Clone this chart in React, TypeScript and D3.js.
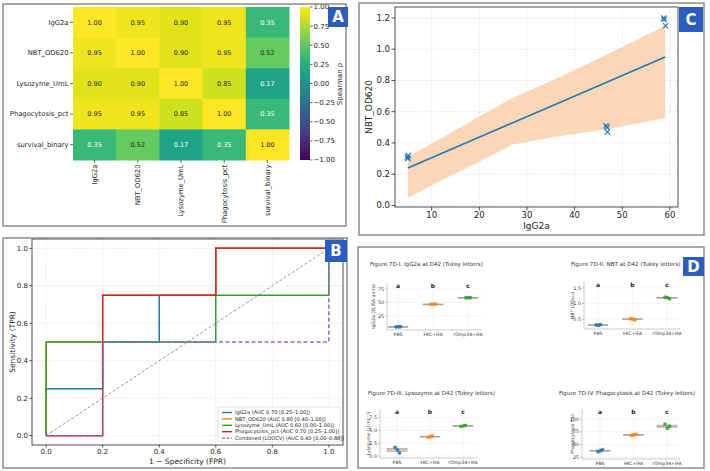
import React from 'react';
import * as d3 from 'd3';

const FONT = "'DejaVu Sans', sans-serif";

// ---- A: Spearman correlation heatmap ----
const markers = ['IgG2a', 'NBT_OD620', 'Lysozyme_UmL', 'Phagocytosis_pct', 'survival_binary'];
const rho = [
  [1.0, 0.95, 0.9, 0.95, 0.35],
  [0.95, 1.0, 0.9, 0.95, 0.52],
  [0.9, 0.9, 1.0, 0.85, 0.17],
  [0.95, 0.95, 0.85, 1.0, 0.35],
  [0.35, 0.52, 0.17, 0.35, 1.0],
];
const cbTicks = [1, 0.75, 0.5, 0.25, 0, -0.25, -0.5, -0.75, -1];

// ---- C: IgG2a vs NBT with regression fit ----
const iggObs = [4.9, 5.0, 5.1, 46.6, 46.8, 46.9, 58.7, 58.8, 59.1];
const nbtObs = [0.31, 0.3, 0.32, 0.51, 0.5, 0.47, 1.2, 1.19, 1.15];
const fitX = [5, 59];
const fitY = [0.24, 0.95];
const bandX = [5, 12, 20, 27, 36, 47, 59];
const bandLo = [0.05, 0.16, 0.28, 0.39, 0.44, 0.49, 0.56];
const bandHi = [0.31, 0.43, 0.57, 0.69, 0.81, 0.97, 1.15];
const cXTicks = [10, 20, 30, 40, 50, 60];
const cYTicks = [0, 0.2, 0.4, 0.6, 0.8, 1.0, 1.2];

// ---- B: ROC curves ----
const rocNames = [
  'IgG2a (AUC 0.70 [0.25–1.00])',
  'NBT_OD620 (AUC 0.80 [0.40–1.00])',
  'Lysozyme_UmL (AUC 0.60 [0.00–1.00])',
  'Phagocytosis_pct (AUC 0.70 [0.25–1.00])',
  'Combined (LOOCV) (AUC 0.40 [0.00–0.88])',
];
const rocColors = ['#1f77b4', '#ff7f0e', '#2ca02c', '#d62728', '#9467bd'];
const fprIgG = [0, 0, 0.2, 0.2, 0.4, 0.4, 0.6, 0.6, 1];
const tprIgG = [0, 0.25, 0.25, 0.5, 0.5, 0.75, 0.75, 1, 1];
const fprNbt = [0, 0, 0.2, 0.2, 0.6, 0.6, 1];
const tprNbt = [0, 0.5, 0.5, 0.75, 0.75, 1, 1];
const fprLys = [0, 0, 0.6, 0.6, 1, 1];
const tprLys = [0, 0.5, 0.5, 0.75, 0.75, 1];
const fprPhag = [0, 0.2, 0.2, 0.6, 0.6, 1];
const tprPhag = [0, 0, 0.75, 0.75, 1, 1];
const fprComb = [0, 0.2, 0.2, 1, 1];
const tprComb = [0, 0, 0.5, 0.5, 1];
const rocTicks = [0, 0.2, 0.4, 0.6, 0.8, 1.0];

// ---- D: group comparisons at D42 ----
const groups = ['PBS', 'FKC+IFA', 'rOmp34+IFA'];
const letters = ['a', 'b', 'c'];
const groupColors = ['#1f77b4', '#ff7f0e', '#2ca02c'];
const iggByGroup = [[4.9, 5.0, 5.1], [46.6, 46.8, 46.9], [58.7, 58.8, 59.1]];
const nbtByGroup = [[0.31, 0.3, 0.32], [0.51, 0.5, 0.47], [1.2, 1.19, 1.15]];
const lysByGroup = [[1.7, 1.2, 0.6], [3.7, 3.8, 3.9], [5.8, 5.9, 6.0]];
const phagByGroup = [[36, 38, 40], [68, 69, 70], [90, 82, 86]];

const textOn = (c: string) => {
  const { r, g, b } = d3.rgb(c);
  const lin = (v: number) => {
    const s = v / 255;
    return s <= 0.03928 ? s / 12.92 : Math.pow((s + 0.055) / 1.055, 2.4);
  };
  const lum = 0.2126 * lin(r) + 0.7152 * lin(g) + 0.0722 * lin(b);
  return lum > 0.408 ? '#262626' : '#ffffff';
};

const Frame = ({ x, y, w, h }: any) => (
  <rect x={x} y={y} width={w} height={h} fill="none" stroke="#8c8c8c" strokeWidth={1.5} />
);

const Tag = ({ x, y, w, h, label }: any) => (
  <g>
    <rect x={x} y={y} width={w} height={h} fill="#2b5cc0" />
    <text x={x + w / 2} y={y + h / 2} dy="0.36em" textAnchor="middle" fill="#fff" fontSize={15} fontWeight="bold">
      {label}
    </text>
  </g>
);

const Heatmap = () => {
  const x = d3.scaleBand<string>().domain(markers).range([73, 289]);
  const y = d3.scaleBand<string>().domain(markers).range([7, 160]);
  const color = d3.scaleSequential(d3.interpolateViridis).domain([-1, 1]);
  const cb = d3.scaleLinear().domain([-1, 1]).range([160, 7]);
  const fmt = d3.format('.2f');
  return (
    <g>
      <defs>
        <linearGradient id="viridisBar" x1="0" y1="1" x2="0" y2="0">
          {d3.range(0, 1.0001, 0.05).map((t) => (
            <stop key={t} offset={t} stopColor={d3.interpolateViridis(t)} />
          ))}
        </linearGradient>
      </defs>
      {rho.map((row, i) =>
        row.map((v, j) => {
          const fill = color(v);
          return (
            <g key={`${i}-${j}`}>
              <rect x={x(markers[j])} y={y(markers[i])} width={x.bandwidth() + 0.5} height={y.bandwidth() + 0.5} fill={fill} />
              <text
                x={(x(markers[j]) as number) + x.bandwidth() / 2}
                y={(y(markers[i]) as number) + y.bandwidth() / 2}
                dy="0.35em"
                textAnchor="middle"
                fontSize={6.5}
                fill={textOn(fill)}
              >
                {fmt(v)}
              </text>
            </g>
          );
        })
      )}
      {markers.map((m) => {
        const cy = (y(m) as number) + y.bandwidth() / 2;
        const cx = (x(m) as number) + x.bandwidth() / 2;
        return (
          <g key={m}>
            <line x1={70} x2={73} y1={cy} y2={cy} stroke="#222" strokeWidth={0.7} />
            <text x={68.5} y={cy} dy="0.35em" textAnchor="end" fontSize={6.8} fill="#222">{m}</text>
            <line x1={cx} x2={cx} y1={160} y2={163} stroke="#222" strokeWidth={0.7} />
            <text transform={`translate(${cx},164.5) rotate(-90)`} dy="0.35em" textAnchor="end" fontSize={6.8} fill="#222">{m}</text>
          </g>
        );
      })}
      <rect x={300} y={7} width={10} height={153} fill="url(#viridisBar)" />
      {cbTicks.map((t) => (
        <g key={t}>
          <line x1={310} x2={312.5} y1={cb(t)} y2={cb(t)} stroke="#222" strokeWidth={0.7} />
          <text x={313.5} y={cb(t)} dy="0.35em" fontSize={7} fill="#222">{fmt(t)}</text>
        </g>
      ))}
      <text transform="translate(340,84) rotate(-90)" textAnchor="middle" dy="0.35em" fontSize={7} fill="#222">
        Spearman ρ
      </text>
    </g>
  );
};

const Scatter = () => {
  const left = 395, right = 678, top = 7, bottom = 207;
  const x = d3.scaleLinear().domain([2.3, 61.7]).range([left, right]);
  const y = d3.scaleLinear().domain([-0.01, 1.27]).range([bottom, top]);
  const band = d3
    .area<number>()
    .x((_, i) => x(bandX[i]))
    .y0((_, i) => y(bandLo[i]))
    .y1((_, i) => y(bandHi[i]));
  const fit = d3.line<number>().x((_, i) => x(fitX[i])).y((_, i) => y(fitY[i]));
  return (
    <g>
      {cXTicks.map((t) => (
        <line key={t} x1={x(t)} x2={x(t)} y1={top} y2={bottom} stroke="#c8c8c8" strokeWidth={0.6} strokeDasharray="1,1.5" />
      ))}
      {cYTicks.map((t) => (
        <line key={t} x1={left} x2={right} y1={y(t)} y2={y(t)} stroke="#c8c8c8" strokeWidth={0.6} strokeDasharray="1,1.5" />
      ))}
      <path d={band(bandX) as string} fill="#fbd3b0" fillOpacity={0.9} />
      <path d={fit(fitX) as string} fill="none" stroke="#1f77b4" strokeWidth={1.6} />
      {iggObs.map((v, i) => {
        const px = x(v), py = y(nbtObs[i]);
        return (
          <path key={i} d={`M${px - 2.6},${py - 2.6}L${px + 2.6},${py + 2.6}M${px - 2.6},${py + 2.6}L${px + 2.6},${py - 2.6}`} stroke="#1f77b4" strokeWidth={1.2} />
        );
      })}
      <rect x={left} y={top} width={right - left} height={bottom - top} fill="none" stroke="#222" strokeWidth={0.8} />
      {cXTicks.map((t) => (
        <g key={t}>
          <line x1={x(t)} x2={x(t)} y1={bottom} y2={bottom + 3.5} stroke="#222" strokeWidth={0.8} />
          <text x={x(t)} y={bottom + 11} textAnchor="middle" fontSize={8.5} fill="#222">{t}</text>
        </g>
      ))}
      {cYTicks.map((t) => (
        <g key={t}>
          <line x1={left - 3.5} x2={left} y1={y(t)} y2={y(t)} stroke="#222" strokeWidth={0.8} />
          <text x={left - 5} y={y(t)} dy="0.35em" textAnchor="end" fontSize={8.5} fill="#222">{t.toFixed(1)}</text>
        </g>
      ))}
      <text x={(left + right) / 2} y={229} textAnchor="middle" fontSize={9} fill="#222">IgG2a</text>
      <text transform={`translate(369,${(top + bottom) / 2}) rotate(-90)`} textAnchor="middle" dy="0.35em" fontSize={9} fill="#222">
        NBT_OD620
      </text>
    </g>
  );
};

const Roc = () => {
  const left = 32, right = 343, top = 239, bottom = 445;
  const x = d3.scaleLinear().domain([-0.05, 1.05]).range([left, right]);
  const y = d3.scaleLinear().domain([-0.05, 1.05]).range([bottom, top]);
  const curves = [
    [fprIgG, tprIgG],
    [fprNbt, tprNbt],
    [fprLys, tprLys],
    [fprPhag, tprPhag],
    [fprComb, tprComb],
  ];
  const line = (fpr: number[], tpr: number[]) =>
    d3.line<number>().x((d) => x(d)).y((_, i) => y(tpr[i]))(fpr) as string;
  const fmt = d3.format('.1f');
  const lgX = 218, lgY = 407;
  return (
    <g>
      {rocTicks.map((t) => (
        <g key={t}>
          <line x1={x(t)} x2={x(t)} y1={top} y2={bottom} stroke="#c8c8c8" strokeWidth={0.6} strokeDasharray="1,1.5" />
          <line x1={left} x2={right} y1={y(t)} y2={y(t)} stroke="#c8c8c8" strokeWidth={0.6} strokeDasharray="1,1.5" />
        </g>
      ))}
      <path d={line([0, 1], [0, 1])} stroke="#8a8a8a" strokeWidth={0.9} strokeDasharray="3,2" fill="none" />
      {curves.map(([f, t], i) => (
        <path
          key={i}
          d={line(f, t)}
          fill="none"
          stroke={rocColors[i]}
          strokeWidth={1.5}
          strokeDasharray={i === 4 ? '4,2.5' : undefined}
        />
      ))}
      <rect x={left} y={top} width={right - left} height={bottom - top} fill="none" stroke="#222" strokeWidth={0.8} />
      {rocTicks.map((t) => (
        <g key={t}>
          <line x1={x(t)} x2={x(t)} y1={bottom} y2={bottom + 2.5} stroke="#222" strokeWidth={0.8} />
          <text x={x(t)} y={bottom + 9} textAnchor="middle" fontSize={7} fill="#222">{fmt(t)}</text>
          <line x1={left - 2.5} x2={left} y1={y(t)} y2={y(t)} stroke="#222" strokeWidth={0.8} />
          <text x={left - 4} y={y(t)} dy="0.35em" textAnchor="end" fontSize={7} fill="#222">{fmt(t)}</text>
        </g>
      ))}
      <text x={(left + right) / 2} y={463.5} textAnchor="middle" fontSize={7.5} fill="#222">1 − Specificity (FPR)</text>
      <text transform={`translate(12,${(top + bottom) / 2}) rotate(-90)`} textAnchor="middle" dy="0.35em" fontSize={7.5} fill="#222">
        Sensitivity (TPR)
      </text>
      <rect x={lgX} y={lgY} width={122} height={35} rx={1.5} fill="#fff" fillOpacity={0.85} stroke="#d0d0d0" strokeWidth={0.6} />
      {rocNames.map((n, i) => (
        <g key={n}>
          <line
            x1={lgX + 4}
            x2={lgX + 14}
            y1={lgY + 5.5 + i * 6.4}
            y2={lgY + 5.5 + i * 6.4}
            stroke={rocColors[i]}
            strokeWidth={1.4}
            strokeDasharray={i === 4 ? '3,1.5' : undefined}
          />
          <text x={lgX + 17} y={lgY + 5.5 + i * 6.4} dy="0.35em" fontSize={5.1} fill="#222">{n}</text>
        </g>
      ))}
    </g>
  );
};

const Tukey = ({ cfg }: any) => {
  const { left, right, top, bottom, xl, xr, dom, ticks, values, title, tx, ty, ylab, yl, tf } = cfg;
  const x = d3.scalePoint<string>().domain(groups).range([xl, xr]);
  const y = d3.scaleLinear().domain(dom).range([bottom, top]);
  const jitter = [-2, 0.5, 2.5];
  return (
    <g>
      <text x={tx} y={ty} fontSize={5.6} fill="#333">{title}</text>
      {groups.map((g) => (
        <line key={g} x1={x(g)} x2={x(g)} y1={top} y2={bottom} stroke="#ececec" strokeWidth={0.6} />
      ))}
      {ticks.map((t: number) => (
        <line key={t} x1={left} x2={right} y1={y(t)} y2={y(t)} stroke="#ececec" strokeWidth={0.6} />
      ))}
      <line x1={left} x2={left} y1={top} y2={bottom} stroke="#b5b5b5" strokeWidth={0.7} />
      <line x1={left} x2={right} y1={bottom} y2={bottom} stroke="#b5b5b5" strokeWidth={0.7} />
      {groups.map((g, gi) => {
        const vals = (values[gi] as number[]).slice().sort(d3.ascending);
        const q1 = d3.quantile(vals, 0.25) as number;
        const q2 = d3.quantile(vals, 0.5) as number;
        const q3 = d3.quantile(vals, 0.75) as number;
        const cx = x(g) as number;
        const hw = 10;
        return (
          <g key={g}>
            <line x1={cx} x2={cx} y1={y(vals[0])} y2={y(vals[vals.length - 1])} stroke="#9a8c80" strokeWidth={0.6} />
            <rect x={cx - hw} y={y(q3)} width={hw * 2} height={Math.max(0.8, y(q1) - y(q3))} fill="#efe2d4" stroke="#a89888" strokeWidth={0.6} />
            <line x1={cx - hw} x2={cx + hw} y1={y(q2)} y2={y(q2)} stroke="#a89888" strokeWidth={0.8} />
            {(values[gi] as number[]).map((v, k) => (
              <circle key={k} cx={cx + jitter[k]} cy={y(v)} r={1.9} fill={groupColors[gi]} fillOpacity={0.85} />
            ))}
            <text x={cx} y={top + 5} textAnchor="middle" fontSize={6} fontWeight="bold" fill="#222">{letters[gi]}</text>
            <text x={cx} y={bottom + 6} textAnchor="middle" fontSize={4.6} fill="#333">{g}</text>
          </g>
        );
      })}
      {ticks.map((t: number) => (
        <g key={t}>
          <line x1={left - 2} x2={left} y1={y(t)} y2={y(t)} stroke="#999" strokeWidth={0.6} />
          <text x={left - 3} y={y(t)} dy="0.35em" textAnchor="end" fontSize={4.8} fill="#333">{tf(t)}</text>
        </g>
      ))}
      <text transform={`translate(${yl},${(top + bottom) / 2}) rotate(-90)`} textAnchor="middle" dy="0.35em" fontSize={4.6} fill="#333">
        {ylab}
      </text>
    </g>
  );
};

const tukeyPanels = [
  {
    left: 387, right: 482, top: 283, bottom: 330, xl: 398, xr: 468, dom: [-1, 86], ticks: [25, 50, 75],
    values: iggByGroup, title: 'Figure 7D-I. IgG2a at D42 (Tukey letters)', tx: 370, ty: 266,
    ylab: 'IgG2a (ELISA units)', yl: 373, tf: d3.format('d'),
  },
  {
    left: 584, right: 680, top: 282, bottom: 329, xl: 598, xr: 667, dom: [0.18, 1.69], ticks: [0.5, 1.0, 1.5],
    values: nbtByGroup, title: 'Figure 7D-II. NBT at D42 (Tukey letters)', tx: 571, ty: 266,
    ylab: 'NBT (OD₆₂₀)', yl: 572, tf: d3.format('.1f'),
  },
  {
    left: 380, right: 478, top: 409, bottom: 458, xl: 397, xr: 463, dom: [-0.4, 9.2], ticks: [0, 2.5, 5, 7.5],
    values: lysByGroup, title: 'Figure 7D-III. Lysozyme at D42 (Tukey letters)', tx: 368, ty: 395,
    ylab: 'Lysozyme (U mL⁻¹)', yl: 368, tf: d3.format('.1f'),
  },
  {
    left: 582, right: 680, top: 409, bottom: 459, xl: 600, xr: 667, dom: [21.7, 119.6], ticks: [25, 50, 75, 100],
    values: phagByGroup, title: 'Figure 7D-IV. Phagocytosis at D42 (Tukey letters)', tx: 559, ty: 395,
    ylab: 'Phagocytosis (%)', yl: 572, tf: d3.format('d'),
  },
];

const App = () => (
  <svg width={710} height={471} style={{ position: 'absolute', left: 0, top: 0, fontFamily: FONT }}>
    <rect width={710} height={471} fill="#fff" />
    <Heatmap />
    <Scatter />
    <Roc />
    {tukeyPanels.map((c, i) => (
      <Tukey key={i} cfg={c} />
    ))}
    <Frame x={3} y={4} w={343} h={222} />
    <Frame x={359} y={3} w={345} h={232} />
    <Frame x={3} y={238} w={344} h={230} />
    <Frame x={358} y={247} w={346} h={221} />
    <Tag x={328} y={7} w={20} h={20} label="A" />
    <Tag x={679} y={7} w={24} h={25} label="C" />
    <Tag x={325} y={240} w={22} h={22} label="B" />
    <Tag x={683} y={257} w={21} h={19} label="D" />
  </svg>
);

export default App;
